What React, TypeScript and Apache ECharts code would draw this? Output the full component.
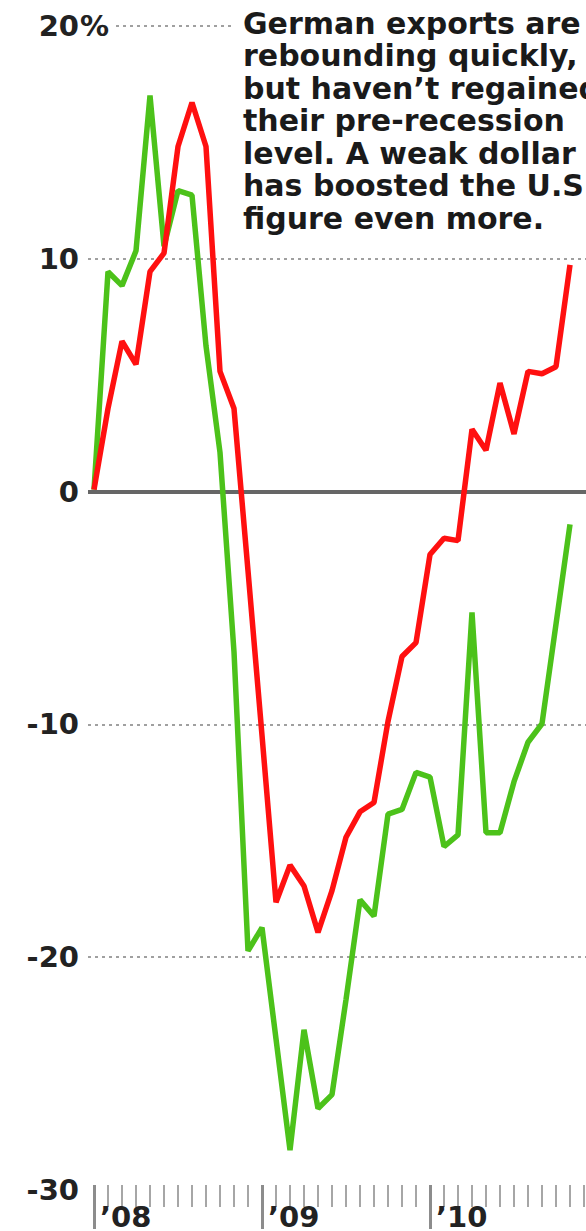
import React, { useEffect, useRef } from 'react';
import * as echarts from 'echarts';

// Monthly, Jan 2008 – Nov 2010 (index 0 = Jan 2008)
const months = [
  'Jan 08', 'Feb 08', 'Mar 08', 'Apr 08', 'May 08', 'Jun 08', 'Jul 08', 'Aug 08', 'Sep 08', 'Oct 08', 'Nov 08', 'Dec 08',
  'Jan 09', 'Feb 09', 'Mar 09', 'Apr 09', 'May 09', 'Jun 09', 'Jul 09', 'Aug 09', 'Sep 09', 'Oct 09', 'Nov 09', 'Dec 09',
  'Jan 10', 'Feb 10', 'Mar 10', 'Apr 10', 'May 10', 'Jun 10', 'Jul 10', 'Aug 10', 'Sep 10', 'Oct 10', 'Nov 10',
];

// % change since Jan 2008
const germanExports = [
  0, 9.4, 8.8, 10.3, 17.0, 10.5, 12.9, 12.7, 6.2, 1.6, -7.0, -19.9,
  -18.9, -23.7, -28.5, -23.3, -26.7, -26.1, -22.0, -17.7, -18.4, -14.0, -13.8, -12.2,
  -12.4, -15.4, -14.9, -5.3, -14.8, -14.8, -12.6, -10.9, -10.1, -5.8, -1.5,
];
const usExports = [
  0, 3.5, 6.4, 5.4, 9.4, 10.2, 14.8, 16.7, 14.8, 5.1, 3.5, -3.5,
  -10.6, -17.8, -16.2, -17.1, -19.1, -17.3, -15.0, -13.9, -13.5, -10.0, -7.2, -6.6,
  -2.8, -2.1, -2.2, 2.6, 1.7, 4.6, 2.4, 5.1, 5.0, 5.3, 9.7,
];

const yearLabels = ['\u201908', '\u201909', '\u201910'];
const yMin = -30;
const yMax = 20;
const yStep = 10;

const annotationLines = [
  'German exports are',
  'rebounding quickly,',
  'but haven\u2019t regained',
  'their pre-recession',
  'level. A weak dollar',
  'has boosted the U.S.',
  'figure even more.',
];

const FONT = '"DejaVu Sans", Verdana, sans-serif';

export default function App() {
  const ref = useRef<HTMLDivElement>(null);

  useEffect(() => {
    const chart = echarts.init(ref.current as HTMLDivElement, null, { renderer: 'svg' });
    const option: any = {
      animation: false,
      backgroundColor: '#fff',
      grid: [
        { left: 88, top: 26, width: 510, height: 1164 },
        { left: 94, top: 26, width: 504, height: 1164 },
      ],
      xAxis: [
        { gridIndex: 0, type: 'value', min: 0, max: 1, show: false },
        {
          gridIndex: 1,
          type: 'value',
          position: 'bottom',
          min: 0,
          max: 36,
          interval: 12,
          axisLine: { show: false, onZero: false },
          axisTick: { show: true, length: 44, lineStyle: { color: '#8c8c8c', width: 3 } },
          minorTick: { show: true, splitNumber: 12, length: 22, lineStyle: { color: '#a6a6a6', width: 2 } },
          splitLine: { show: false },
          minorSplitLine: { show: false },
          axisLabel: {
            formatter: (v: number) => yearLabels[v / 12] ?? '',
            align: 'left',
            margin: 17,
            padding: [0, 0, 0, 6],
            fontFamily: FONT,
            fontSize: 29,
            fontWeight: 'bold',
            color: '#222',
          },
        },
      ],
      yAxis: [
        {
          gridIndex: 0,
          type: 'value',
          min: yMin,
          max: yMax,
          interval: yStep,
          axisLine: { show: false },
          axisTick: { show: false },
          splitLine: {
            show: true,
            showMinLine: false,
            lineStyle: { color: '#a0a0a0', width: 2, type: [3, 4] },
          },
          axisLabel: {
            margin: 9,
            fontFamily: FONT,
            fontSize: 29,
            fontWeight: 'bold',
            color: '#222',
          },
        },
        {
          gridIndex: 0,
          type: 'value',
          min: yMin,
          max: yMax,
          interval: 30,
          z: 1,
          axisLine: { show: false },
          axisTick: { show: false },
          axisLabel: { show: false },
          splitLine: {
            show: true,
            showMinLine: false,
            showMaxLine: false,
            lineStyle: { color: '#666', width: 4, type: 'solid' },
          },
        },
        { gridIndex: 1, type: 'value', min: yMin, max: yMax, interval: yStep, show: false },
      ],
      series: [
        {
          name: 'Germany',
          type: 'line',
          xAxisIndex: 1,
          yAxisIndex: 2,
          z: 3,
          data: months.map((_, i) => [i, germanExports[i]]),
          symbol: 'none',
          lineStyle: { color: '#4cc21a', width: 5.5 },
        },
        {
          name: 'U.S.',
          type: 'line',
          xAxisIndex: 1,
          yAxisIndex: 2,
          z: 4,
          data: months.map((_, i) => [i, usExports[i]]),
          symbol: 'none',
          lineStyle: { color: '#ff1010', width: 5.5 },
        },
      ],
    };
    chart.setOption(option);

    const y20 = chart.convertToPixel({ yAxisIndex: 0 } as any, yMax) as number;
    chart.setOption({
      graphic: [
        {
          type: 'text',
          z: 10,
          style: {
            x: 80,
            y: y20,
            text: '%',
            font: `bold 29px ${FONT}`,
            fill: '#222',
            verticalAlign: 'middle',
            backgroundColor: '#fff',
            padding: [0, 3, 0, 0],
          },
        },
        {
          type: 'text',
          z: 10,
          style: {
            x: 233,
            y: 7,
            text: annotationLines.join('\n'),
            font: `bold 30px ${FONT}`,
            lineHeight: 32.5,
            fill: '#1a1a1a',
            backgroundColor: '#fff',
            padding: [0, 0, 0, 10],
          },
        },
      ],
    });

    return () => chart.dispose();
  }, []);

  return (
    <div style={{ position: 'absolute', left: 0, top: 0, width: 586, height: 1231, overflow: 'hidden', background: '#fff' }}>
      <div ref={ref} style={{ width: 620, height: 1231 }} />
    </div>
  );
}
